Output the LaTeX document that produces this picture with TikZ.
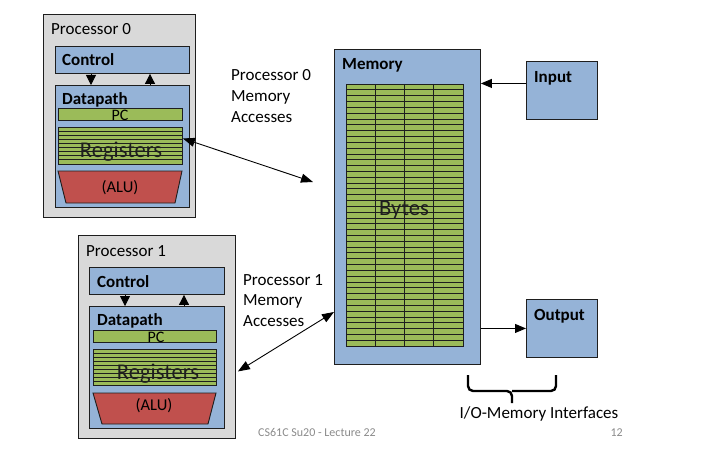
\documentclass[tikz,border=0pt]{standalone}
\usepackage{fontspec}
\setmainfont{Carlito}
\usetikzlibrary{arrows.meta}
\definecolor{boxblue}{HTML}{95B3D7}
\definecolor{procgray}{HTML}{D9D9D9}
\definecolor{reggreen}{HTML}{9BBB59}
\definecolor{alured}{HTML}{C0504D}
\definecolor{edge}{HTML}{1E1E1E}
\definecolor{footgray}{HTML}{8A8A8A}
\begin{document}
\begin{tikzpicture}[x=1pt,y=-1pt,
	blk/.style={draw=edge,line width=0.9pt,anchor=north west,inner sep=0pt},
	lbl/.style={anchor=base west,inner sep=0pt,font=\fontsize{17}{20.8}\selectfont},
	bl/.style={lbl,font=\fontsize{17}{20.8}\selectfont\bfseries},
	big/.style={anchor=base,inner sep=0pt,text=edge,font=\fontsize{22.5}{26}\selectfont},
	tip/.style={-{Triangle[length=10pt,width=10pt]},line width=0.8pt},
	arr/.style={-{Triangle[length=11pt,width=9pt]},line width=0.9pt},
	acc/.style={{Triangle[length=12pt,width=9pt]}-{Triangle[length=12pt,width=9pt]},line width=0.9pt}]
			\useasboundingbox (0,0) rectangle (715,452);
			%			Processor 0
			\node[blk,fill=procgray,minimum width=152,minimum height=203] (proc0) at (43,14) {};
			\node[lbl] (proc0t) at (51,35) {Processor 0};
			\node[blk,fill=boxblue,minimum width=134,minimum height=27] (ctrl0) at (55,46) {};
			\node[bl] (ctrl0t) at (62,66) {Control};
			\node[blk,fill=boxblue,minimum width=134,minimum height=122] (dp0) at (55,85) {};
			\node[bl] (dp0t) at (62,104.5) {Datapath};
			\draw[tip] ([xshift=36pt]ctrl0.south west) -- ([xshift=36pt]dp0.north west);
			\draw[tip] ([xshift=95pt]dp0.north west) -- ([xshift=95pt]ctrl0.south west);
			\node[blk,fill=reggreen,minimum width=124,minimum height=12] (pc0) at (58,108) {};
			\node[lbl,anchor=base,font=\fontsize{16}{19}\selectfont] (pc0t) at (120,120.5) {PC};
			\node[blk,fill=reggreen,minimum width=124,minimum height=37] (reg0) at (58,127) {};
			\foreach \k in {1,...,8} \draw[edge,line width=0.8pt] (58,{127+\k*4.11}) -- (182,{127+\k*4.11});
			\node[big] (reg0t) at (121,157.5) {Registers};
			\draw[edge,fill=alured,line width=0.9pt] (58,171) -- (182,171) -- (175,203) -- (66,203) -- cycle;
			\node[lbl,anchor=base,font=\fontsize{16.5}{20}\selectfont] (alu0) at (120,192.5) {(ALU)};
			%			Processor 1
			\node[blk,fill=procgray,minimum width=157,minimum height=203] (proc1) at (78,235) {};
			\node[lbl] (proc1t) at (86,256) {Processor 1};
			\node[blk,fill=boxblue,minimum width=135,minimum height=27] (ctrl1) at (89,267) {};
			\node[bl] (ctrl1t) at (97,287) {Control};
			\node[blk,fill=boxblue,minimum width=135,minimum height=122] (dp1) at (89,306) {};
			\node[bl] (dp1t) at (97,325) {Datapath};
			\draw[tip] ([xshift=36pt]ctrl1.south west) -- ([xshift=36pt]dp1.north west);
			\draw[tip] ([xshift=95pt]dp1.north west) -- ([xshift=95pt]ctrl1.south west);
			\node[blk,fill=reggreen,minimum width=123,minimum height=12] (pc1) at (93,330) {};
			\node[lbl,anchor=base,font=\fontsize{16}{19}\selectfont] (pc1t) at (156,342) {PC};
			\node[blk,fill=reggreen,minimum width=123,minimum height=36] (reg1) at (93,349) {};
			\foreach \k in {1,...,8} \draw[edge,line width=0.8pt] (93,{349+\k*4}) -- (216,{349+\k*4});
			\node[big] (reg1t) at (158,379) {Registers};
			\draw[edge,fill=alured,line width=0.9pt] (93,393) -- (216,393) -- (208,424) -- (102,424) -- cycle;
			\node[lbl,anchor=base,font=\fontsize{16.5}{20}\selectfont] (alu1) at (154,410) {(ALU)};
			%			Memory
			\node[blk,fill=boxblue,minimum width=146,minimum height=315] (mem) at (334,49) {};
			\node[bl] (memt) at (342,70) {Memory};
			\node[blk,fill=reggreen,minimum width=117,minimum height=262] (bytes) at (346,84) {};
			\foreach \k in {1,...,44} \draw[edge,line width=0.7pt] (346,{84+\k*262/45}) -- (463,{84+\k*262/45});
			\foreach \k in {1,2,3} \draw[edge,line width=0.8pt] ({346+\k*29.25},84) -- ({346+\k*29.25},346);
			\node[big] (bytest) at (404,215) {Bytes};
			%			I/O
			\node[blk,fill=boxblue,minimum width=71,minimum height=58] (inp) at (526,61) {};
			\node[bl] (inpt) at (534,82) {Input};
			\node[blk,fill=boxblue,minimum width=71,minimum height=58] (outp) at (526,299) {};
			\node[bl] (outpt) at (534,320) {Output};
			\draw[arr] ([yshift=7pt]inp.west) -- ([yshift=7pt]inp.west -| mem.east);
			\draw[arr] (mem.east |- outp.west) -- (outp.west);
			%			Accesses
			\coordinate (m0) at (313,182);
			\coordinate (m1) at (334,312);
			\draw[acc] ([yshift=7.5pt]reg0.east) -- (m0);
			\draw[acc] ([shift={(2pt,-34.5pt)}]proc1.east) -- (m1);
			\node[lbl,anchor=north west,align=left] (acc0t) at (231,69.5) {Processor 0\\Memory\\Accesses};
			\node[lbl,anchor=north west,align=left] (acc1t) at (243,274) {Processor 1\\Memory\\Accesses};
			%			Interfaces
			\draw[line width=2.4pt,rounded corners=5pt] (468,375) |- (512,391) -- (512,403);
			\draw[line width=2.4pt,rounded corners=5pt] (556,375) |- (512,391);
			\node[lbl,anchor=base] (iot) at (539,418) {I/O-Memory Interfaces};
			\node[anchor=base west,inner sep=0pt,text=footgray,font=\fontsize{12}{14}\selectfont] (foot) at (258,436) {CS61C Su20 - Lecture 22};
			\node[anchor=base east,inner sep=0pt,text=footgray,font=\fontsize{12}{14}\selectfont] (page) at (623,436) {12};
		\end{tikzpicture}
\end{document}
